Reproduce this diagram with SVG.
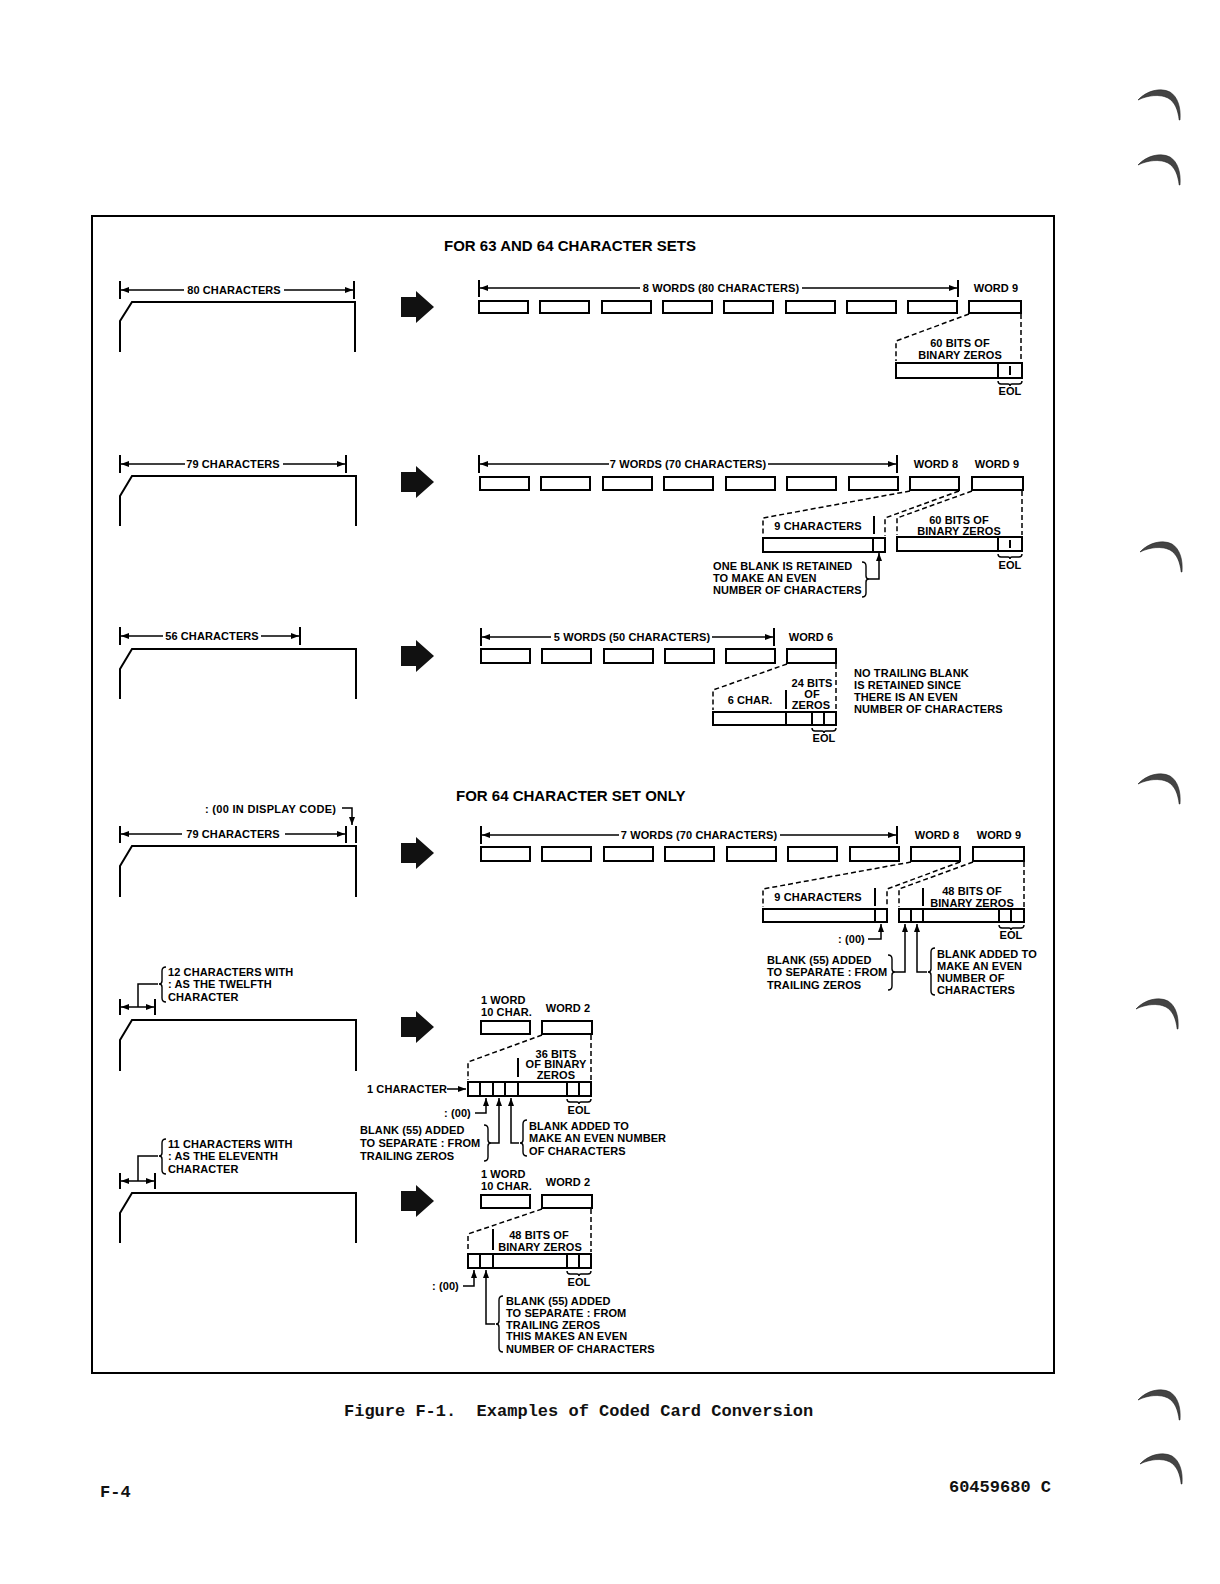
<svg xmlns="http://www.w3.org/2000/svg" width="1220" height="1584" viewBox="0 0 1220 1584">
<style>
.t{font-family:"Liberation Sans",Arial,Helvetica,sans-serif;font-weight:bold;font-size:11px;fill:#000;letter-spacing:0.1px}
.m{text-anchor:middle}
.h{font-family:"Liberation Sans",Arial,Helvetica,sans-serif;font-weight:bold;font-size:15px;fill:#000}
.mono{font-family:"Liberation Mono","Courier New",monospace;font-size:17px;font-weight:bold;fill:#111;white-space:pre}
.ln{stroke:#000;stroke-width:1.5;fill:none}
.tk{stroke:#000;stroke-width:2;fill:none}
.card{stroke:#000;stroke-width:2;fill:none}
.bx{stroke:#000;stroke-width:2;fill:#fff}
.ds{stroke:#000;stroke-width:1.5;fill:none;stroke-dasharray:5 3}
.br{stroke:#000;stroke-width:1.4;fill:none}
</style>
<defs>
<marker id="a" viewBox="0 0 8 6" refX="8" refY="3" markerWidth="8" markerHeight="6" markerUnits="userSpaceOnUse" orient="auto"><path d="M0,0 L8,3 L0,6 z" fill="#000"/></marker>
<path id="bigarrow" d="M401,-10 L416,-10 L416,-16 L434,0 L416,16 L416,10 L401,10 Z" fill="#111"/>
<path id="moon" d="M0,12 C8,3 22,-1 32,4 C40,9 43,20 42,32 L41.2,32 C40,22 37,14 30,10 C22,6 10,7 0,12 Z" fill="#444" stroke="#222" stroke-width="0.6"/>
</defs>

<rect x="92" y="216" width="962" height="1157" fill="none" stroke="#000" stroke-width="2"/>

<text class="h" x="444" y="251">FOR 63 AND 64 CHARACTER SETS</text>
<text class="h" x="456" y="801">FOR 64 CHARACTER SET ONLY</text>

<!-- Row 1 -->
<g id="card1">
<path class="card" d="M120,352 L120,321 L132,302 L355,302 L355,352"/>
<path class="tk" d="M120,281 L120,299 M354,281 L354,299"/>
<line class="ln" x1="184" y1="290" x2="121" y2="290" marker-end="url(#a)"/>
<line class="ln" x1="284" y1="290" x2="353" y2="290" marker-end="url(#a)"/>
<text class="t m" x="234" y="294">80 CHARACTERS</text>
</g>
<g id="arrow1"><use href="#bigarrow" transform="translate(0,307)"/></g>
<g id="words1">
<path class="tk" d="M479,280 L479,297 M958,280 L958,297"/>
<line class="ln" x1="640" y1="288" x2="480" y2="288" marker-end="url(#a)"/>
<line class="ln" x1="802" y1="288" x2="957" y2="288" marker-end="url(#a)"/>
<text class="t m" x="721" y="292">8 WORDS (80 CHARACTERS)</text>
<text class="t m" x="996" y="292">WORD 9</text>
<rect class="bx" x="479" y="301" width="49" height="12"/>
<rect class="bx" x="540" y="301" width="49" height="12"/>
<rect class="bx" x="602" y="301" width="49" height="12"/>
<rect class="bx" x="663" y="301" width="49" height="12"/>
<rect class="bx" x="724" y="301" width="49" height="12"/>
<rect class="bx" x="786" y="301" width="49" height="12"/>
<rect class="bx" x="847" y="301" width="49" height="12"/>
<rect class="bx" x="908" y="301" width="49" height="12"/>
<rect class="bx" x="969" y="301" width="52" height="12"/>
</g>
<g id="expand1">
<path class="ds" d="M969,314 L896,341 L896,361 M1021,314 L1021,361"/>
<text class="t m" x="960" y="347">60 BITS OF</text>
<text class="t m" x="960" y="359">BINARY ZEROS</text>
<rect class="bx" x="896" y="363" width="126" height="15"/>
<path class="tk" d="M998,363 L998,378 M1010,366 L1010,375"/>
<path class="br" d="M998,381 Q998,384 1001,384 L1008,384 Q1010,384 1010,386 Q1010,384 1012,384 L1019,384 Q1022,384 1022,381"/>
<text class="t m" x="1010" y="395">EOL</text>
</g>

<!-- Row 2 -->
<g id="card2">
<path class="card" d="M120,526 L120,496 L132,476 L356,476 L356,526"/>
<path class="tk" d="M120,455 L120,473 M346,455 L346,473"/>
<line class="ln" x1="185" y1="464" x2="121" y2="464" marker-end="url(#a)"/>
<line class="ln" x1="283" y1="464" x2="345" y2="464" marker-end="url(#a)"/>
<text class="t m" x="233" y="468">79 CHARACTERS</text>
</g>
<g id="arrow2"><use href="#bigarrow" transform="translate(0,482)"/></g>
<g id="words2">
<path class="tk" d="M479,455 L479,473 M897,455 L897,473"/>
<line class="ln" x1="609" y1="464" x2="480" y2="464" marker-end="url(#a)"/>
<line class="ln" x1="768" y1="464" x2="896" y2="464" marker-end="url(#a)"/>
<text class="t m" x="688" y="468">7 WORDS (70 CHARACTERS)</text>
<text class="t m" x="936" y="468">WORD 8</text>
<text class="t m" x="997" y="468">WORD 9</text>
<rect class="bx" x="480" y="477" width="49" height="13"/>
<rect class="bx" x="541" y="477" width="49" height="13"/>
<rect class="bx" x="603" y="477" width="49" height="13"/>
<rect class="bx" x="664" y="477" width="49" height="13"/>
<rect class="bx" x="726" y="477" width="49" height="13"/>
<rect class="bx" x="787" y="477" width="49" height="13"/>
<rect class="bx" x="849" y="477" width="49" height="13"/>
<rect class="bx" x="910" y="477" width="49" height="13"/>
<rect class="bx" x="972" y="477" width="51" height="13"/>
</g>
<g id="expand2">
<path class="ds" d="M910,491 L763,518 L763,536 M959,491 L885,518 L885,536 M972,491 L897,518 L897,535 M1022,491 L1022,535"/>
<path class="tk" d="M874,516 L874,534"/>
<text class="t m" x="818" y="530">9 CHARACTERS</text>
<rect class="bx" x="763" y="538" width="122" height="14"/>
<path class="tk" d="M873,538 L873,552"/>
<text class="t m" x="959" y="524">60 BITS OF</text>
<text class="t m" x="959" y="535">BINARY ZEROS</text>
<rect class="bx" x="897" y="537" width="125" height="14"/>
<path class="tk" d="M998,537 L998,551 M1010,540 L1010,548"/>
<path class="br" d="M998,554 Q998,557 1001,557 L1008,557 Q1010,557 1010,559 Q1010,557 1012,557 L1019,557 Q1022,557 1022,554"/>
<text class="t m" x="1010" y="569">EOL</text>
<text class="t" x="713" y="570">ONE BLANK IS RETAINED</text>
<text class="t" x="713" y="582">TO MAKE AN EVEN</text>
<text class="t" x="713" y="594">NUMBER OF CHARACTERS</text>
<path class="br" d="M862,562 Q866,562 866,566 L866,576 Q866,579 869,579 Q866,579 866,582 L866,593 Q866,597 862,597"/>
<path class="ln" d="M869,579 L879,579 L879,553" marker-end="url(#a)"/>
</g>

<!-- Row 3 -->
<g id="card3">
<path class="card" d="M120,699 L120,669 L132,649 L356,649 L356,699"/>
<path class="tk" d="M120,627 L120,645 M300,627 L300,645"/>
<line class="ln" x1="163" y1="636" x2="121" y2="636" marker-end="url(#a)"/>
<line class="ln" x1="261" y1="636" x2="299" y2="636" marker-end="url(#a)"/>
<text class="t m" x="212" y="640">56 CHARACTERS</text>
</g>
<g id="arrow3"><use href="#bigarrow" transform="translate(0,656)"/></g>
<g id="words3">
<path class="tk" d="M481,628 L481,646 M774,628 L774,646"/>
<line class="ln" x1="551" y1="637" x2="482" y2="637" marker-end="url(#a)"/>
<line class="ln" x1="712" y1="637" x2="773" y2="637" marker-end="url(#a)"/>
<text class="t m" x="632" y="641">5 WORDS (50 CHARACTERS)</text>
<text class="t m" x="811" y="641">WORD 6</text>
<rect class="bx" x="481" y="649" width="49" height="14"/>
<rect class="bx" x="542" y="649" width="49" height="14"/>
<rect class="bx" x="604" y="649" width="49" height="14"/>
<rect class="bx" x="665" y="649" width="49" height="14"/>
<rect class="bx" x="726" y="649" width="49" height="14"/>
<rect class="bx" x="787" y="649" width="49" height="14"/>
</g>
<g id="expand3">
<path class="ds" d="M787,664 L713,690 L713,710 M836,664 L836,710"/>
<path class="tk" d="M786,690 L786,709"/>
<text class="t m" x="750" y="704">6 CHAR.</text>
<text class="t m" x="812" y="687">24 BITS</text>
<text class="t m" x="812" y="698">OF</text>
<text class="t m" x="811" y="709">ZEROS</text>
<rect class="bx" x="713" y="712" width="123" height="13"/>
<path class="tk" d="M786,712 L786,725 M812,712 L812,725 M824,712 L824,725"/>
<path class="br" d="M812,728 Q812,731 815,731 L822,731 Q824,731 824,733 Q824,731 826,731 L833,731 Q836,731 836,728"/>
<text class="t m" x="824" y="742">EOL</text>
<text class="t" x="854" y="677">NO TRAILING BLANK</text>
<text class="t" x="854" y="689">IS RETAINED SINCE</text>
<text class="t" x="854" y="701">THERE IS AN EVEN</text>
<text class="t" x="854" y="713">NUMBER OF CHARACTERS</text>
</g>

<!-- Row 4 -->
<g id="card4">
<text class="t" x="205" y="813" style="letter-spacing:0.3px">: (00 IN DISPLAY CODE)</text>
<path class="ln" d="M342,808 L352,808 L352,825" marker-end="url(#a)"/>
<path class="card" d="M120,897 L120,866 L132,846 L356,846 L356,897"/>
<path class="tk" d="M120,826 L120,843 M346,826 L346,843 M356,826 L356,843"/>
<line class="ln" x1="182" y1="834" x2="121" y2="834" marker-end="url(#a)"/>
<line class="ln" x1="285" y1="834" x2="345" y2="834" marker-end="url(#a)"/>
<text class="t m" x="233" y="838">79 CHARACTERS</text>
</g>
<g id="arrow4"><use href="#bigarrow" transform="translate(0,853)"/></g>
<g id="words4">
<path class="tk" d="M481,826 L481,844 M897,826 L897,844"/>
<line class="ln" x1="619" y1="835" x2="482" y2="835" marker-end="url(#a)"/>
<line class="ln" x1="780" y1="835" x2="896" y2="835" marker-end="url(#a)"/>
<text class="t m" x="699" y="839">7 WORDS (70 CHARACTERS)</text>
<text class="t m" x="937" y="839">WORD 8</text>
<text class="t m" x="999" y="839">WORD 9</text>
<rect class="bx" x="481" y="847" width="49" height="14"/>
<rect class="bx" x="542" y="847" width="49" height="14"/>
<rect class="bx" x="604" y="847" width="49" height="14"/>
<rect class="bx" x="665" y="847" width="49" height="14"/>
<rect class="bx" x="727" y="847" width="49" height="14"/>
<rect class="bx" x="788" y="847" width="49" height="14"/>
<rect class="bx" x="850" y="847" width="49" height="14"/>
<rect class="bx" x="911" y="847" width="49" height="14"/>
<rect class="bx" x="973" y="847" width="51" height="14"/>
</g>
<g id="expand4">
<path class="ds" d="M911,862 L763,889 L763,907 M960,862 L887,889 L887,907 M973,862 L899,889 L899,907 M1024,862 L1024,907"/>
<path class="tk" d="M875,888 L875,906 M923,888 L923,906"/>
<text class="t m" x="818" y="901">9 CHARACTERS</text>
<rect class="bx" x="763" y="909" width="124" height="13"/>
<path class="tk" d="M875,909 L875,922"/>
<text class="t m" x="972" y="895">48 BITS OF</text>
<text class="t m" x="972" y="907">BINARY ZEROS</text>
<rect class="bx" x="899" y="909" width="125" height="13"/>
<path class="tk" d="M911,909 L911,922 M923,909 L923,922 M999,909 L999,922 M1011,909 L1011,922"/>
<path class="br" d="M999,925 Q999,928 1002,928 L1009,928 Q1011,928 1011,930 Q1011,928 1013,928 L1021,928 Q1024,928 1024,925"/>
<text class="t m" x="1011" y="939">EOL</text>
<text class="t" x="838" y="943">: (00)</text>
<path class="ln" d="M868,939 L881,939 L881,924" marker-end="url(#a)"/>
<text class="t" x="767" y="964">BLANK (55) ADDED</text>
<text class="t" x="767" y="976">TO SEPARATE : FROM</text>
<text class="t" x="767" y="989">TRAILING ZEROS</text>
<path class="br" d="M888,955 Q892,955 892,959 L892,969 Q892,972 895,972 Q892,972 892,975 L892,986 Q892,990 888,990"/>
<path class="ln" d="M895,972 L905,972 L905,924" marker-end="url(#a)"/>
<path class="ln" d="M927,972 L917,972 L917,924" marker-end="url(#a)"/>
<path class="br" d="M935,948 Q931,948 931,952 L931,969 Q931,972 928,972 Q931,972 931,975 L931,991 Q931,995 935,995"/>
<text class="t" x="937" y="958">BLANK ADDED TO</text>
<text class="t" x="937" y="970">MAKE AN EVEN</text>
<text class="t" x="937" y="982">NUMBER OF</text>
<text class="t" x="937" y="994">CHARACTERS</text>
</g>

<!-- Row 5 -->
<g id="card5">
<path class="tk" d="M120,999 L120,1015 M155,999 L155,1015"/>
<line class="ln" x1="138" y1="1007" x2="121" y2="1007" marker-end="url(#a)"/>
<line class="ln" x1="138" y1="1007" x2="154" y2="1007" marker-end="url(#a)"/>
<path class="ln" d="M138,1007 L138,984 L158,984"/>
<path class="br" d="M166,967 Q162,967 162,971 L162,981 Q162,984 159,984 Q162,984 162,987 L162,998 Q162,1002 166,1002"/>
<text class="t" x="168" y="976">12 CHARACTERS WITH</text>
<text class="t" x="168" y="988">: AS THE TWELFTH</text>
<text class="t" x="168" y="1001">CHARACTER</text>
<path class="card" d="M120,1071 L120,1040 L132,1020 L356,1020 L356,1071"/>
</g>
<g id="arrow5"><use href="#bigarrow" transform="translate(0,1027)"/></g>
<g id="words5">
<text class="t" x="481" y="1004">1 WORD</text>
<text class="t" x="481" y="1016">10 CHAR.</text>
<text class="t m" x="568" y="1012">WORD 2</text>
<rect class="bx" x="481" y="1021" width="49" height="13"/>
<rect class="bx" x="542" y="1021" width="50" height="13"/>
</g>
<g id="expand5">
<path class="ds" d="M542,1035 L468,1062 L468,1080 M591,1035 L591,1080"/>
<path class="tk" d="M518,1058 L518,1077"/>
<text class="t m" x="556" y="1058">36 BITS</text>
<text class="t m" x="556" y="1068">OF BINARY</text>
<text class="t m" x="556" y="1079">ZEROS</text>
<rect class="bx" x="468" y="1082" width="123" height="14"/>
<path class="tk" d="M480,1082 L480,1096 M493,1082 L493,1096 M505,1082 L505,1096 M518,1082 L518,1096 M567,1082 L567,1096 M579,1082 L579,1096"/>
<text class="t" x="367" y="1093">1 CHARACTER</text>
<line class="ln" x1="447" y1="1089" x2="466" y2="1089" marker-end="url(#a)"/>
<path class="br" d="M567,1099 Q567,1102 570,1102 L577,1102 Q579,1102 579,1104 Q579,1102 581,1102 L588,1102 Q591,1102 591,1099"/>
<text class="t m" x="579" y="1114">EOL</text>
<text class="t" x="444" y="1117">: (00)</text>
<path class="ln" d="M475,1113 L486,1113 L486,1098" marker-end="url(#a)"/>
<text class="t" x="360" y="1134">BLANK (55) ADDED</text>
<text class="t" x="360" y="1147">TO SEPARATE : FROM</text>
<text class="t" x="360" y="1160">TRAILING ZEROS</text>
<path class="br" d="M484,1125 Q488,1125 488,1129 L488,1140 Q488,1143 491,1143 Q488,1143 488,1146 L488,1157 Q488,1161 484,1161"/>
<path class="ln" d="M491,1143 L499,1143 L499,1098" marker-end="url(#a)"/>
<path class="ln" d="M519,1143 L511,1143 L511,1098" marker-end="url(#a)"/>
<path class="br" d="M527,1120 Q523,1120 523,1124 L523,1140 Q523,1143 520,1143 Q523,1143 523,1146 L523,1152 Q523,1156 527,1156"/>
<text class="t" x="529" y="1130">BLANK ADDED TO</text>
<text class="t" x="529" y="1142">MAKE AN EVEN NUMBER</text>
<text class="t" x="529" y="1155">OF CHARACTERS</text>
</g>

<!-- Row 6 -->
<g id="card6">
<path class="tk" d="M120,1173 L120,1189 M155,1173 L155,1189"/>
<line class="ln" x1="138" y1="1181" x2="121" y2="1181" marker-end="url(#a)"/>
<line class="ln" x1="138" y1="1181" x2="154" y2="1181" marker-end="url(#a)"/>
<path class="ln" d="M138,1181 L138,1156 L158,1156"/>
<path class="br" d="M166,1139 Q162,1139 162,1143 L162,1153 Q162,1156 159,1156 Q162,1156 162,1159 L162,1170 Q162,1174 166,1174"/>
<text class="t" x="168" y="1148">11 CHARACTERS WITH</text>
<text class="t" x="168" y="1160">: AS THE ELEVENTH</text>
<text class="t" x="168" y="1173">CHARACTER</text>
<path class="card" d="M120,1243 L120,1213 L132,1193 L356,1193 L356,1243"/>
</g>
<g id="arrow6"><use href="#bigarrow" transform="translate(0,1201)"/></g>
<g id="words6">
<text class="t" x="481" y="1178">1 WORD</text>
<text class="t" x="481" y="1190">10 CHAR.</text>
<text class="t m" x="568" y="1186">WORD 2</text>
<rect class="bx" x="481" y="1195" width="49" height="13"/>
<rect class="bx" x="542" y="1195" width="50" height="13"/>
</g>
<g id="expand6">
<path class="ds" d="M542,1209 L468,1234 L468,1252 M591,1209 L591,1252"/>
<path class="tk" d="M493,1229 L493,1250"/>
<text class="t m" x="539" y="1239">48 BITS OF</text>
<text class="t m" x="540" y="1251">BINARY ZEROS</text>
<rect class="bx" x="468" y="1254" width="123" height="14"/>
<path class="tk" d="M480,1254 L480,1268 M493,1254 L493,1268 M567,1254 L567,1268 M579,1254 L579,1268"/>
<path class="br" d="M567,1271 Q567,1274 570,1274 L577,1274 Q579,1274 579,1276 Q579,1274 581,1274 L588,1274 Q591,1274 591,1271"/>
<text class="t m" x="579" y="1286">EOL</text>
<text class="t" x="432" y="1290">: (00)</text>
<path class="ln" d="M463,1286 L474,1286 L474,1270" marker-end="url(#a)"/>
<path class="ln" d="M495,1324 L486,1324 L486,1270" marker-end="url(#a)"/>
<path class="br" d="M503,1296 Q499,1296 499,1300 L499,1321 Q499,1324 496,1324 Q499,1324 499,1327 L499,1348 Q499,1352 503,1352"/>
<text class="t" x="506" y="1305">BLANK (55) ADDED</text>
<text class="t" x="506" y="1317">TO SEPARATE : FROM</text>
<text class="t" x="506" y="1329">TRAILING ZEROS</text>
<text class="t" x="506" y="1340">THIS MAKES AN EVEN</text>
<text class="t" x="506" y="1353">NUMBER OF CHARACTERS</text>
</g>

<text class="mono" x="344" y="1416" xml:space="preserve">Figure F-1.  Examples of Coded Card Conversion</text>
<text class="mono" x="100" y="1497">F-4</text>
<text class="mono" x="1051" y="1492" text-anchor="end">60459680 C</text>

<g id="margin-marks">
<use href="#moon" transform="translate(1138,88)"/>
<use href="#moon" transform="translate(1138,153)"/>
<use href="#moon" transform="translate(1140,540)"/>
<use href="#moon" transform="translate(1138,772)"/>
<use href="#moon" transform="translate(1136,997)"/>
<use href="#moon" transform="translate(1138,1388)"/>
<use href="#moon" transform="translate(1140,1452)"/>
</g>
</svg>
